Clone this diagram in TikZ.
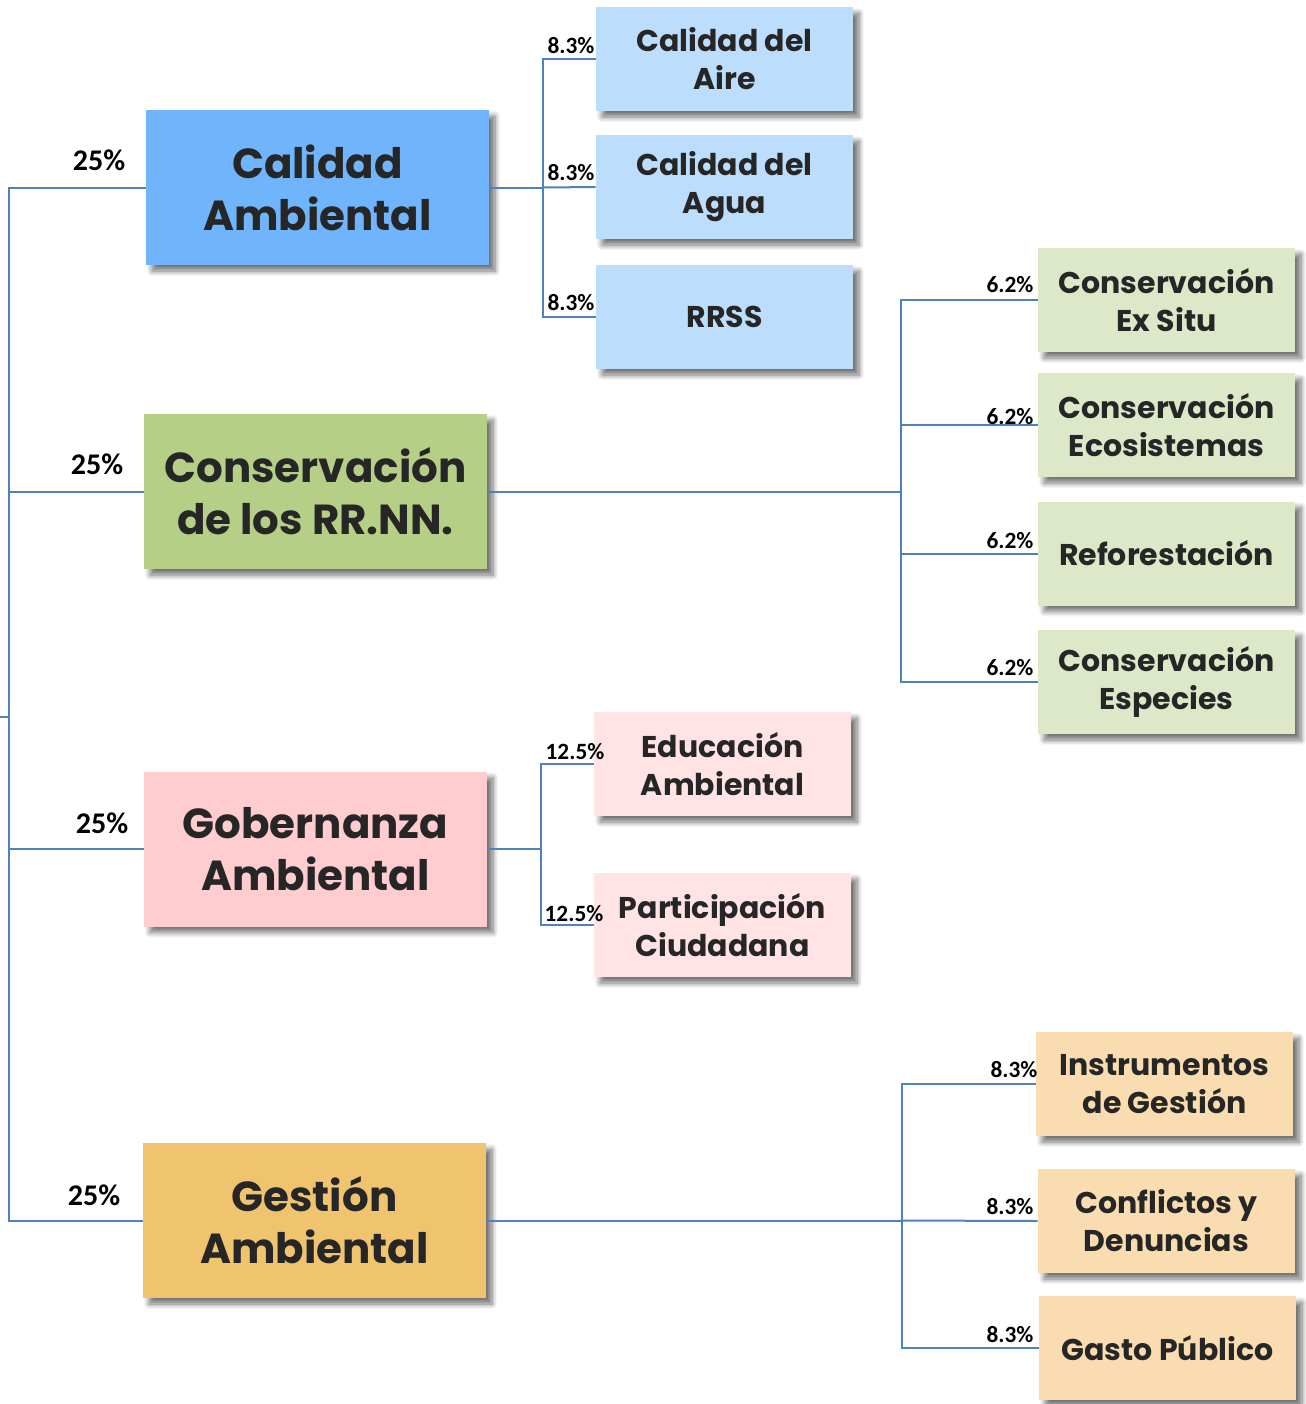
\documentclass[tikz,border=0pt]{standalone}
\usepackage{fontspec}
\setmainfont{Carlito}
\newfontfamily\boxfont{Poppins}
\usetikzlibrary{shadows.blur}
\definecolor{lineblue}{RGB}{79,129,189}
\definecolor{txt}{RGB}{38,38,38}
\definecolor{caBig}{RGB}{112,180,252}
\definecolor{caSmall}{RGB}{189,221,252}
\definecolor{crBig}{RGB}{181,207,134}
\definecolor{crSmall}{RGB}{221,232,200}
\definecolor{gbBig}{RGB}{255,204,207}
\definecolor{gbSmall}{RGB}{255,227,229}
\definecolor{gaBig}{RGB}{240,196,111}
\definecolor{gaSmall}{RGB}{249,221,176}
\tikzset{
  boxbase/.style={draw=none, align=center, text=txt, inner sep=0pt,
    blur shadow={shadow xshift=4.5pt, shadow yshift=-4.5pt, shadow blur steps=8, shadow blur radius=4pt, shadow opacity=55}},
  bigbox/.style={boxbase, minimum width=257.25pt, minimum height=116.25pt,
    font=\boxfont\bfseries\fontsize{31.5}{39}\selectfont},
  smallbox/.style={boxbase, minimum width=192.75pt, minimum height=78pt,
    font=\boxfont\bfseries\fontsize{22.5}{28.5}\selectfont},
  conn/.style={draw=lineblue, line width=1.5pt},
  biglbl/.style={inner sep=0pt, font=\bfseries\fontsize{22.5}{26}\selectfont},
  smalllbl/.style={inner sep=0pt, font=\bfseries\fontsize{17.5}{20}\selectfont},
}
\begin{document}
\begin{tikzpicture}[x=0.75pt,y=-0.75pt]
\useasboundingbox (0,0) rectangle (1306,1404);
% main boxes
\node[bigbox, fill=caBig] (CA) at (317.5,187.5) {Calidad\\Ambiental};
\node[bigbox, fill=crBig] (CR) at (315.5,491.5) {Conservación\\de los RR.NN.};
\node[bigbox, fill=gbBig] (GB) at (315.5,849) {Gobernanza\\Ambiental};
\node[bigbox, fill=gaBig] (GA) at (314.5,1220.5) {Gestión\\Ambiental};
% sub boxes
\node[smallbox, fill=caSmall] (Aire) at (724.5,59) {Calidad del\\Aire};
\node[smallbox, fill=caSmall] (Agua) at (724.5,187) {Calidad del\\Agua};
\node[smallbox, fill=caSmall] (RRSS) at (724.5,317) {RRSS};
\node[smallbox, fill=crSmall] (ExSitu) at (1166.5,300) {Conservación\\Ex Situ};
\node[smallbox, fill=crSmall] (Ecos) at (1166.5,425) {Conservación\\Ecosistemas};
\node[smallbox, fill=crSmall] (Refo) at (1166.5,553.5) {Reforestación};
\node[smallbox, fill=crSmall] (Espe) at (1166.5,682) {Conservación\\Especies};
\node[smallbox, fill=gbSmall] (Educ) at (722.5,764) {Educación\\Ambiental};
\node[smallbox, fill=gbSmall] (Part) at (722.5,925) {Participación\\Ciudadana};
\node[smallbox, fill=gaSmall] (Instr) at (1164.5,1084) {Instrumentos\\de Gestión};
\node[smallbox, fill=gaSmall] (Confl) at (1166.5,1221) {Conflictos y\\Denuncias};
\node[smallbox, fill=gaSmall] (Gasto) at (1167.5,1348) {Gasto Público};
% root connectors
\coordinate (r0) at (0,717);
\coordinate (r) at (9,717);
\draw[conn] (r0) -- (r);
\draw[conn] (r) |- (CA.west);
\draw[conn] (r) |- (CR.west);
\draw[conn] (r) |- (GB.west);
\draw[conn] (r) |- (GA.west);
% Calidad Ambiental children
\draw[conn] (CA.east) -- ++(54,0) coordinate (jCA);
\draw[conn] (jCA) |- (Aire.west);
\draw[conn] (jCA) -- (Agua.west);
\draw[conn] (jCA) |- (RRSS.west);
% Conservacion children
\draw[conn] (CR.east) -- ++(414,0) coordinate (jCR);
\draw[conn] (jCR) |- (ExSitu.west);
\draw[conn] (jCR) |- (Ecos.west);
\draw[conn] (jCR) |- (Refo.west);
\draw[conn] (jCR) |- (Espe.west);
% Gobernanza children
\draw[conn] (GB.east) -- ++(54,0) coordinate (jGB);
\draw[conn] (jGB) |- (Educ.west);
\draw[conn] (jGB) |- (Part.west);
% Gestion children
\draw[conn] (GA.east) -- ++(416,0) coordinate (jGA);
\draw[conn] (jGA) |- (Instr.west);
\draw[conn] (jGA) -- (Confl.west);
\draw[conn] (jGA) |- (Gasto.west);
% labels
\node[biglbl] (l1) at (99,160) {25\%};
\node[biglbl] (l2) at (97,464) {25\%};
\node[biglbl] (l3) at (102,823) {25\%};
\node[biglbl] (l4) at (94,1195) {25\%};
\node[smalllbl] (a1) at (571,46) {8.3\%};
\node[smalllbl] (a2) at (571,173) {8.3\%};
\node[smalllbl] (a3) at (571,303) {8.3\%};
\node[smalllbl] (b1) at (1010,285) {6.2\%};
\node[smalllbl] (b2) at (1010,417) {6.2\%};
\node[smalllbl] (b3) at (1010,541) {6.2\%};
\node[smalllbl] (b4) at (1010,668) {6.2\%};
\node[smalllbl] (c1) at (575,752) {12.5\%};
\node[smalllbl] (c2) at (574,914) {12.5\%};
\node[smalllbl] (d1) at (1014,1070) {8.3\%};
\node[smalllbl] (d2) at (1010,1207) {8.3\%};
\node[smalllbl] (d3) at (1010,1335) {8.3\%};
\end{tikzpicture}
\end{document}
